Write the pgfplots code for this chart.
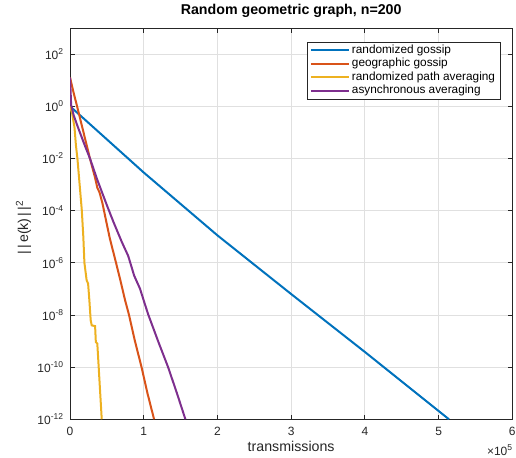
\documentclass[border=0pt]{standalone}
\usepackage{fontspec}
\setmainfont{Liberation Sans}
\usepackage{pgfplots}
\pgfplotsset{compat=1.18}
\definecolor{mblue}{rgb}{0,0.447,0.741}
\definecolor{morange}{rgb}{0.850,0.325,0.098}
\definecolor{myellow}{rgb}{0.929,0.694,0.125}
\definecolor{mpurple}{rgb}{0.494,0.184,0.556}
\definecolor{axgray}{rgb}{0.15,0.15,0.15}
\definecolor{gridgray}{rgb}{0.88,0.88,0.88}
\newcommand{\tk}[1]{10\raisebox{4.8bp}{\fontsize{8.5bp}{8.5bp}\selectfont #1}}
\begin{document}
\begin{tikzpicture}
\begin{axis}[
  name=ax,
  scale only axis, width=442bp, height=391bp,
  xmin=0, xmax=6, ymin=1e-12, ymax=1e3, ymode=log,
  xtick={0,1,2,3,4,5,6},
  xticklabels={0,1,2,3,4,5,6},
  ytick={1e-12,1e-10,1e-8,1e-6,1e-4,1e-2,1,1e2},
  yticklabels={\tk{-12},\tk{-10},\tk{-8},\tk{-6},\tk{-4},\tk{-2},\tk{0},\tk{2}},
  yminorticks=false,
  tick align=inside, major tick length=4.5bp,
  grid=major, major grid style={gridgray, line width=0.8bp},
  axis line style={axgray, line width=0.8bp},
  tick style={axgray, line width=0.8bp},
  xticklabel style={anchor=north, inner sep=0pt, yshift=-8bp, font=\fontsize{12bp}{12bp}\selectfont, text=axgray},
  yticklabel style={anchor=east, inner sep=0pt, xshift=-6.7bp, font=\fontsize{12bp}{12bp}\selectfont, text=axgray},
  title={Random geometric graph, n=200},
  title style={at={(axis description cs:0.5,1)}, anchor=base, yshift=8bp, inner sep=0pt, font=\bfseries\fontsize{14.2bp}{16bp}\selectfont, text=black},
  xlabel={transmissions},
  xlabel style={at={(axis description cs:0.5,0)}, anchor=base, yshift=-32.3bp, inner sep=0pt, font=\fontsize{14.2bp}{16bp}\selectfont, text=axgray},
  ylabel={|\kern2.6bp|\kern1.8bp e(k)\kern1.8bp|\kern2.6bp|\textsuperscript{2}},
  ylabel style={at={(axis description cs:-0.1052,0.49)}, anchor=center, inner sep=0pt, font=\fontsize{14.2bp}{16bp}\selectfont, text=axgray},
  legend style={at={(0.9729,0.965)}, anchor=north east, draw=axgray, line width=0.5bp, fill=white,
    font=\fontsize{11.8bp}{12bp}\selectfont, inner xsep=3bp, inner ysep=2.5bp, row sep=1.5bp,
    nodes={inner xsep=2bp, inner ysep=0.5bp, text height=8.5bp, text depth=2.5bp}, cells={anchor=west}},
  legend image code/.code={\draw[#1, line width=2bp] (0bp,0bp) -- (38bp,0bp);},
  legend cell align=left,
]
\addplot[mblue, line width=2bp] coordinates {
 (0,1) (1,2.88e-3) (2,1.12e-5) (3,6.31e-8) (4,3.80e-10) (5.14,1e-12)
};
\addlegendentry{randomized gossip}
\addplot[morange, line width=2bp] coordinates {
 (0,12.6) (0.05,3.16) (0.1,0.891) (0.2,0.0631) (0.27,1e-2) (0.34,1.8e-3)
 (0.37,7.5e-4) (0.40,5.0e-4) (0.44,1.9e-4) (0.49,3.98e-5) (0.54,8.5e-6)
 (0.624,1e-6) (0.68,2.3e-7) (0.746,3.72e-8) (0.80,1e-8) (0.88,1e-9)
 (0.97,1e-10) (1.05,1e-11) (1.14,1e-12)
};
\addlegendentry{geographic gossip}
\addplot[myellow, line width=2bp] coordinates {
 (0,1) (0.03,0.501) (0.06,0.158) (0.08,0.0316) (0.1,1e-2) (0.13,1e-3)
 (0.16,1e-4) (0.18,1e-5) (0.195,1e-6) (0.225,2.14e-7) (0.245,1.58e-7)
 (0.262,3.72e-8) (0.28,6.31e-9) (0.294,3.98e-9) (0.34,3.72e-9) (0.35,9.12e-10)
 (0.37,7.94e-10) (0.43,1e-12)
};
\addlegendentry{randomized path averaging}
\addplot[mpurple, line width=2bp] coordinates {
 (0,12.6) (0.015,1.12) (0.05,0.447) (0.1,0.178) (0.2,0.0316) (0.27,1e-2)
 (0.37,1.51e-3) (0.5,1.6e-4) (0.59,3.6e-5) (0.70,6.5e-6) (0.79,1.8e-6)
 (0.87,3.2e-7) (0.95,1.0e-7) (1.0,3.55e-8) (1.06,1.05e-8) (1.2,9e-10)
 (1.33,1e-10) (1.45,1e-11) (1.565,1e-12)
};
\addlegendentry{asynchronous averaging}
\end{axis}
\node[anchor=base east, inner sep=0pt, font=\fontsize{12bp}{12bp}\selectfont, text=axgray] at ([yshift=-36.3bp]ax.south east) {×\tk{5}};
\pgfresetboundingbox
\path ([xshift=-70bp,yshift=-38.3bp]ax.south west) rectangle ([xshift=3.7bp,yshift=28bp]ax.north east);
\end{tikzpicture}
\end{document}
